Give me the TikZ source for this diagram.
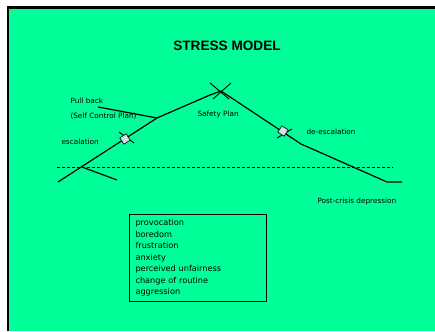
\documentclass[tikz,border=0pt]{standalone}
\usepackage{fontspec}
\setmainfont{DejaVu Sans}
\newfontfamily\titlefont{Liberation Sans}
\usepackage{tikz}
\usetikzlibrary{positioning}
\definecolor{slidegreen}{HTML}{00FF99}
\definecolor{markblue}{HTML}{CDE3E6}

\begin{document}
\begin{tikzpicture}[x=1pt, y=-1pt, line width=1pt,
  lbl/.style={anchor=west, inner sep=0pt, font=\fontsize{7.3}{8}\selectfont},
  marker/.style={draw=black, fill=markblue, line width=0.6pt, minimum size=7.5pt, inner sep=0pt},
  curve/.style={line width=1.2pt, line join=round}]
\useasboundingbox (0,0) rectangle (435,331);
%%%%% Slide %%%%%
\fill[white] (0,0) rectangle (435,331);
\fill[slidegreen] (8,7.5) rectangle (435,331);
\coordinate (cornerbl) at (8,331);
\coordinate (cornertl) at (8,7.5);
\coordinate (cornertr) at (435,7.5);
\draw[line width=2.5pt] (cornerbl) -- (cornertl) -- (cornertr);
%%%%% Title %%%%%
\node[font=\titlefont\bfseries\fontsize{13.6}{16}\selectfont] (title) at (227,46) {STRESS MODEL};
%%%%% Points %%%%%
\coordinate (start) at (58,182);
\coordinate (cross) at (82,167);
\coordinate (pull) at (157,118);
\coordinate (bend) at (210,95);
\coordinate (peak) at (221,91);
\coordinate (down) at (301,144);
\coordinate (low) at (387,182);
\coordinate (stop) at (402,182);
\coordinate (pullend) at (98,107);
\coordinate (crossend) at (117,180);
\coordinate (dashl) at (57,167);
\coordinate (dashr) at (393,167);
%%%%% Threshold %%%%%
\draw[densely dashed, line width=0.6pt] (dashl) -- (dashr);
%%%%% Curve %%%%%
\draw[curve] (start) -- (pull) -- (bend) -- (peak) -- (down) -- (low) -- (stop);
\draw[curve] (pullend) -- (pull);
\draw[curve] (cross) -- (crossend);
%%%%% Peak cross %%%%%
\coordinate (xa) at (210,83);
\coordinate (xb) at (229,99);
\coordinate (xc) at (231,83);
\coordinate (xd) at (213,99);
\draw[line width=0.9pt] (xa) -- (xb);
\draw[line width=0.9pt] (xc) -- (xd);
%%%%% Markers %%%%%
\coordinate (ta) at (119,132);
\coordinate (tb) at (134,143);
\coordinate (tc) at (277,138);
\coordinate (td) at (292,129);
\draw[line width=0.9pt] (ta) -- (tb);
\draw[line width=0.9pt] (tc) -- (td);
\node[marker, rotate=33] (mesc) at (125,139) {};
\node[marker, rotate=-34] (mdesc) at (283,131) {};
%%%%% Labels %%%%%
\node[lbl] (pullback) at (70,101) {Pull back};
\node[lbl] (selfctl) at (70,116) {(Self Control Plan)};
\node[lbl] (esc) at (61,142) {escalation};
\node[lbl] (safety) at (197,114) {Safety Plan};
\node[lbl] (desc) at (306,132) {de-escalation};
\node[lbl] (post) at (317,201) {Post-crisis depression};
%%%%% Triggers %%%%%
\node[draw, line width=1pt, anchor=north west, inner xsep=6pt, inner ysep=4pt,
  text width=125pt, minimum height=87pt, align=left,
  font=\fontsize{8.2}{11.5}\selectfont] (triggers) at (129,214)
  {provocation\\ boredom\\ frustration\\ anxiety\\ perceived unfairness\\ change of routine\\ aggression};
\end{tikzpicture}
\end{document}
